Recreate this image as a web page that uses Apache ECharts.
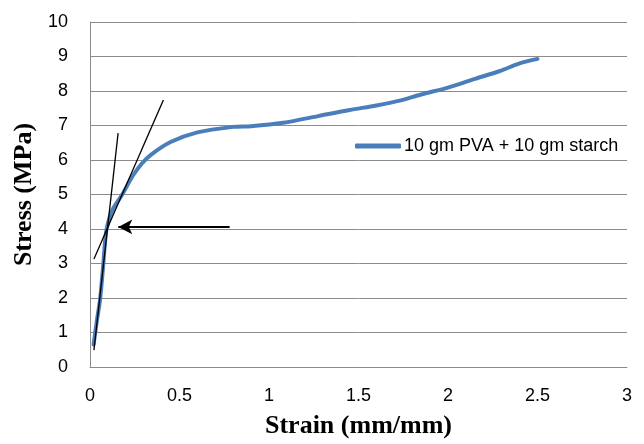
<!DOCTYPE html>
<html>
<head>
<meta charset="utf-8">
<script src="https://cdn.jsdelivr.net/npm/echarts@6/dist/echarts.min.js"></script>
<style>html,body{margin:0;padding:0;background:#fff}#c{width:644px;height:444px}</style>
</head>
<body>
<div id="c"></div>
<script>
// Stress-strain curve (strain mm/mm, stress MPa)
var strain = [0.02, 0.04, 0.056, 0.073, 0.089, 0.11, 0.13, 0.18, 0.24, 0.29, 0.34, 0.45, 0.6, 0.8, 0.9, 1.08, 1.28, 1.45, 1.6, 1.73, 1.85, 2.0, 2.15, 2.29, 2.4, 2.5];
var stress = [0.65, 1.4, 1.94, 2.9, 3.88, 4.35, 4.6, 5.0, 5.55, 5.9, 6.15, 6.52, 6.8, 6.96, 6.98, 7.08, 7.28, 7.45, 7.58, 7.72, 7.9, 8.1, 8.35, 8.58, 8.8, 8.93];
var seriesName = '10 gm PVA + 10 gm starch';
// Annotation lines (data coordinates)
var tangent1 = [[0.022, 0.49], [0.157, 6.78]];
var tangent2 = [[0.022, 3.13], [0.41, 7.74]];
var arrowLine = [[0.78, 4.06], [0.158, 4.06]];
var xTicks = {min: 0, max: 3, interval: 0.5};
var yTicks = {min: 0, max: 10, interval: 1};

var curve = strain.map(function (x, i) { return [x, stress[i]]; });
var chart = echarts.init(document.getElementById('c'), null, {renderer: 'canvas'});
var tickFont = 'Liberation Sans';
chart.setOption({
  animation: false,
  backgroundColor: '#fff',
  grid: {left: 90, top: 22, right: 17, bottom: 77},
  legend: {
    data: [{name: seriesName, icon: 'roundRect'}],
    left: 350, top: 132,
    itemWidth: 46, itemHeight: 5, itemGap: 4,
    textStyle: {fontFamily: tickFont, fontSize: 18, color: '#000', padding: [0, 0, 0, -2]}
  },
  xAxis: {
    type: 'value', min: xTicks.min, max: xTicks.max, interval: xTicks.interval,
    name: 'Strain (mm/mm)', nameLocation: 'middle', nameGap: 46,
    nameTextStyle: {fontFamily: 'Liberation Serif', fontWeight: 'bold', fontSize: 26, color: '#000'},
    axisLine: {show: true, lineStyle: {color: '#8c8c8c', width: 1}},
    axisTick: {show: false},
    splitLine: {show: false},
    axisLabel: {fontFamily: tickFont, fontSize: 18, color: '#000', margin: 20}
  },
  yAxis: {
    type: 'value', min: yTicks.min, max: yTicks.max, interval: yTicks.interval,
    name: 'Stress (MPa)', nameLocation: 'middle', nameGap: 49,
    nameTextStyle: {fontFamily: 'Liberation Serif', fontWeight: 'bold', fontSize: 26, color: '#000'},
    axisLine: {show: true, lineStyle: {color: '#8c8c8c', width: 1}},
    axisTick: {show: false},
    splitLine: {show: true, lineStyle: {color: '#8c8c8c', width: 1}},
    axisLabel: {fontFamily: tickFont, fontSize: 18, color: '#000', margin: 22}
  },
  series: [
    {
      name: seriesName, type: 'line', data: curve, smooth: 0.3, symbol: 'none',
      lineStyle: {color: '#4a7ebb', width: 4, cap: 'round', join: 'round'},
      itemStyle: {color: '#4a7ebb'}, z: 2
    },
    {
      name: 't1', type: 'line', data: tangent1, symbol: 'none', silent: true,
      lineStyle: {color: '#000', width: 1.3}, z: 3
    },
    {
      name: 't2', type: 'line', data: tangent2, symbol: 'none', silent: true,
      lineStyle: {color: '#000', width: 1.3}, z: 3,
      markLine: {
        silent: true, symbol: ['none', 'arrow'], symbolSize: [11, 14], label: {show: false},
        lineStyle: {color: '#000', width: 2, type: 'solid'},
        data: [[{coord: arrowLine[0]}, {coord: arrowLine[1]}]]
      }
    }
  ]
});
</script>
</body>
</html>
